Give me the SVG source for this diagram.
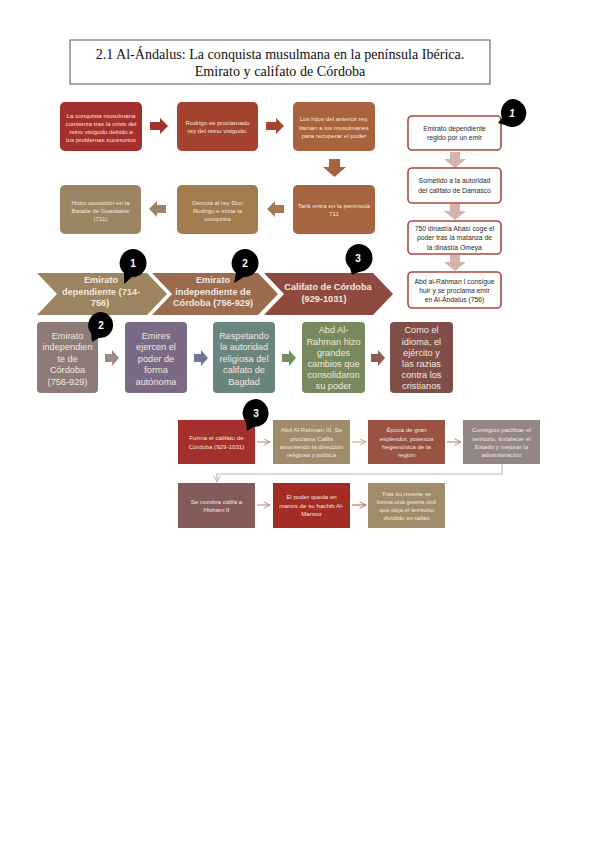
<svg xmlns="http://www.w3.org/2000/svg" width="599" height="848" viewBox="0 0 599 848">
<style>
.t{font-family:"Liberation Serif","Times New Roman",serif;font-size:14.1px;fill:#111;text-anchor:middle}
.s{font-family:"Liberation Sans",Arial,sans-serif;text-anchor:middle}
.w{fill:#f3e6df}
.k{fill:#2a2a2a}
.f6{font-size:6.2px}
.f7{font-size:6.8px}
.f9{font-size:9.2px}
.c9{font-size:9.2px;font-weight:bold}
.rb{fill:#fff;stroke:#a9493c;stroke-width:1.6}
.bub{fill:#000}
.bn{font-family:"Liberation Sans",Arial,sans-serif;font-size:10px;font-weight:bold;fill:#fff;text-anchor:middle}
.la{fill:none;stroke-width:1.1}
</style>
<defs>
<marker id="oa" viewBox="0 0 10 10" refX="9" refY="5" markerWidth="8" markerHeight="8" markerUnits="userSpaceOnUse" orient="auto"><path d="M1,1 L9,5 L1,9" fill="none" stroke="context-stroke" stroke-width="1.2"/></marker>
</defs>
<rect width="599" height="848" fill="#fff"/>
<g id="title">
<rect x="70" y="40" width="420" height="44" fill="#fff" stroke="#555" stroke-width="1"/>
<text class="t" x="280" y="58.5">2.1 Al-Ándalus: La conquista musulmana en la península Ibérica.</text>
<text class="t" x="280" y="76">Emirato y califato de Córdoba</text>
</g>
<g id="connectors">
<path d="M150,122 H160 V118 L168,126 L160,134 V130 H150 Z" fill="#a3302a"/>
<path d="M266,122 H276 V118 L284,126 L276,134 V130 H266 Z" fill="#a5452f"/>
<path d="M329,159 H340 V167 H346 L334.5,177 L323,167 H329 Z" fill="#a8623d"/>
<path d="M284,205 H275 V201 L267,209 L275,217 V213 H284 Z" fill="#a57a52"/>
<path d="M166,205 H157 V201 L149,209 L157,217 V213 H166 Z" fill="#9c8563"/>
<path d="M450,152 H460 V159 H466 L455,168 L444,159 H450 Z" fill="#d6b2ad"/>
<path d="M450,204 H460 V211 H466 L455,220 L444,211 H450 Z" fill="#d6b2ad"/>
<path d="M450,255 H460 V262 H466 L455,271 L444,262 H450 Z" fill="#d6b2ad"/>
<path d="M105,354 H112 V350 L119,358 L112,366 V362 H105 Z" fill="#9d8b87"/>
<path d="M194,354 H201 V350 L208,358 L201,366 V362 H194 Z" fill="#6f7795"/>
<path d="M282,354 H289 V350 L296,358 L289,366 V362 H282 Z" fill="#6f9062"/>
<path d="M371,354 H378 V350 L385,358 L378,366 V362 H371 Z" fill="#8f5a55"/>
<line class="la" x1="257" y1="442" x2="270" y2="442" stroke="#c8877c" marker-end="url(#oa)"/>
<line class="la" x1="352" y1="442" x2="366" y2="442" stroke="#c5ac8e" marker-end="url(#oa)"/>
<line class="la" x1="447" y1="442" x2="461" y2="442" stroke="#b8877c" marker-end="url(#oa)"/>
<path class="la" d="M502,464 V474 H217 V482" stroke="#bdb5b5" marker-end="url(#oa)"/>
<line class="la" x1="257" y1="505" x2="270" y2="505" stroke="#b88f8a" marker-end="url(#oa)"/>
<line class="la" x1="352" y1="505" x2="366" y2="505" stroke="#c2605a" marker-end="url(#oa)"/>
</g>
<g id="n1"><rect x="60" y="102" width="82" height="49" rx="5" fill="#a3302a"/>
<text class="s w f6" x="101" y="117.5">La conquista musulmana</text><text class="s w f6" x="101" y="125.5">comienza tras la crisis del</text><text class="s w f6" x="101" y="133.5">reino visigodo debido a</text><text class="s w f6" x="101" y="141.5">los problemas sucesorios</text></g>
<g id="n2"><rect x="177" y="102" width="81" height="49" rx="5" fill="#a5432f"/>
<text class="s w f6" x="217.5" y="124.5">Rodrigo es proclamado</text><text class="s w f6" x="217.5" y="133">rey del reino visigodo.</text></g>
<g id="n3"><rect x="293" y="102" width="82" height="49" rx="5" fill="#a8623d"/>
<text class="s w f6" x="334" y="121">Los hijos del anterior rey,</text><text class="s w f6" x="334" y="129.5">llaman a los musulmanes</text><text class="s w f6" x="334" y="138">para recuperar el poder</text></g>
<g id="n4"><rect x="293" y="185" width="82" height="49" rx="5" fill="#a66440"/>
<text class="s w f6" x="334" y="208">Tarik entra en la península</text><text class="s w f6" x="334" y="216">711</text></g>
<g id="n5"><rect x="177" y="185" width="81" height="49" rx="5" fill="#a47a4f"/>
<text class="s w f6" x="217.5" y="205">Derrota al rey Don</text><text class="s w f6" x="217.5" y="213">Rodrigo e inicia la</text><text class="s w f6" x="217.5" y="221">conquista</text></g>
<g id="n6"><rect x="60" y="185" width="81" height="49" rx="5" fill="#9c8563"/>
<text class="s w f6" x="100.5" y="205">Hubo oposición en la</text><text class="s w f6" x="100.5" y="213">Batalla de Guadalete</text><text class="s w f6" x="100.5" y="221">(711)</text></g>
<g id="r1"><rect class="rb" x="408" y="116" width="93" height="34" rx="4"/>
<text class="s k f7" x="454.5" y="130.5">Emirato dependiente</text><text class="s k f7" x="454.5" y="140">regido por un emir</text>
<path class="bub" d="M512,99 A14,14 0 1 1 505,125 L498,123 L502,118 A14,14 0 0 1 512,99 Z"/><text class="bn" x="512" y="117" font-style="italic">1</text></g>
<g id="r2"><rect class="rb" x="408" y="168" width="93" height="35" rx="4"/>
<text class="s k f7" x="454.5" y="183">Sometido a la autoridad</text><text class="s k f7" x="454.5" y="192.5">del califato de Damasco</text></g>
<g id="r3"><rect class="rb" x="408" y="221" width="93" height="33" rx="4"/>
<text class="s k f7" x="454.5" y="230.5">750 dinastía Abasí coge el</text><text class="s k f7" x="454.5" y="240">poder tras la matanza de</text><text class="s k f7" x="454.5" y="249.5">la dinastía Omeya</text></g>
<g id="r4"><rect class="rb" x="408" y="272" width="93" height="36" rx="4"/>
<text class="s k f7" x="454.5" y="284">Abd al-Rahman I consigue</text><text class="s k f7" x="454.5" y="293">huir y se proclama emir</text><text class="s k f7" x="454.5" y="302">en Al-Ándalus (756)</text></g>
<g id="c1"><path d="M37,273 H147 L167,294 L147,315 H37 L57,294 Z" fill="#9c8460"/>
<text class="s w c9" x="101" y="283">Emirato</text><text class="s w c9" x="101" y="294.5">dependiente (714-</text><text class="s w c9" x="100" y="306">756)</text>
<path class="bub" d="M133,249 A14,14 0 1 1 132,277 L124,284 L124,273 A14,14 0 0 1 133,249 Z"/><text class="bn" x="133" y="267">1</text></g>
<g id="c2"><path d="M152,273 H258 L278,294 L258,315 H152 L172,294 Z" fill="#9b6d4e"/>
<text class="s w c9" x="213" y="283">Emirato</text><text class="s w c9" x="213" y="294.5">independiente de</text><text class="s w c9" x="213" y="306">Córdoba (756-929)</text>
<path class="bub" d="M245,249 A14,14 0 1 1 244,277 L234,283 L236,273 A14,14 0 0 1 245,249 Z"/><text class="bn" x="245" y="267">2</text></g>
<g id="c3"><path d="M264,273 H373 L393,294 L373,315 H264 L284,294 Z" fill="#8f4a3f"/>
<text class="s w c9" x="328" y="290">Califato de Córdoba</text><text class="s w c9" x="324" y="301.5">(929-1031)</text>
<path class="bub" d="M358,244 A14,14 0 1 1 359,272 L352,275 L350,268 A14,14 0 0 1 358,244 Z"/><text class="bn" x="358" y="262">3</text></g>
<g id="e1"><rect x="37" y="322" width="61" height="71" rx="4" fill="#8e7b77"/>
<text class="s w f9" x="67.5" y="338.5">Emirato</text><text class="s w f9" x="67.5" y="350">independien</text><text class="s w f9" x="67.5" y="361.5">te de</text><text class="s w f9" x="67.5" y="373">Córdoba</text><text class="s w f9" x="67.5" y="384.5">(756-929)</text>
<path class="bub" d="M101,312 A13,13 0 1 1 99,338 L92,342 L91,333 A13,13 0 0 1 101,312 Z"/><text class="bn" x="101" y="329">2</text></g>
<g id="e2"><rect x="125" y="322" width="62" height="71" rx="4" fill="#7a6a85"/>
<text class="s w f9" x="156" y="338.5">Emires</text><text class="s w f9" x="156" y="350">ejercen el</text><text class="s w f9" x="156" y="361.5">poder de</text><text class="s w f9" x="156" y="373">forma</text><text class="s w f9" x="156" y="384.5">autónoma</text></g>
<g id="e3"><rect x="213" y="322" width="62" height="71" rx="4" fill="#6a8580"/>
<text class="s w f9" x="244" y="338.5">Respetando</text><text class="s w f9" x="244" y="350">la autoridad</text><text class="s w f9" x="244" y="361.5">religiosa del</text><text class="s w f9" x="244" y="373">califato de</text><text class="s w f9" x="244" y="384.5">Bagdad</text></g>
<g id="e4"><rect x="302" y="322" width="63" height="71" rx="4" fill="#768a5e"/>
<text class="s w f9" x="333.5" y="333">Abd Al-</text><text class="s w f9" x="333.5" y="344.5">Rahman hizo</text><text class="s w f9" x="333.5" y="356">grandes</text><text class="s w f9" x="333.5" y="367">cambios que</text><text class="s w f9" x="333.5" y="378">consolidaron</text><text class="s w f9" x="333.5" y="389">su poder</text></g>
<g id="e5"><rect x="390" y="322" width="63" height="71" rx="4" fill="#804f4a"/>
<text class="s w f9" x="421.5" y="333">Como el</text><text class="s w f9" x="421.5" y="344.5">idioma, el</text><text class="s w f9" x="421.5" y="356">ejército y</text><text class="s w f9" x="421.5" y="367">las razias</text><text class="s w f9" x="421.5" y="378">contra los</text><text class="s w f9" x="421.5" y="389">cristianos</text></g>
<g id="f1"><rect x="178" y="420" width="77" height="44" fill="#a3302a"/>
<text class="s w f6" x="216.5" y="440">Forma el califato de</text><text class="s w f6" x="216.5" y="449">Córdoba (929-1031)</text>
<path class="bub" d="M256,399 A14,14 0 1 1 253,427 L247,431 L246,422 A14,14 0 0 1 256,399 Z"/><text class="bn" x="256" y="417">3</text></g>
<g id="f2"><rect x="273" y="420" width="77" height="44" fill="#a08b6a"/>
<text class="s w f6" x="311.5" y="432">Abd Al-Rahman III, Se</text><text class="s w f6" x="311.5" y="440.5">proclama Califa</text><text class="s w f6" x="311.5" y="449">asumiendo la dirección</text><text class="s w f6" x="311.5" y="457">religiosa y política</text></g>
<g id="f3"><rect x="368" y="420" width="77" height="44" fill="#9a5243"/>
<text class="s w f6" x="406.5" y="432">Época de gran</text><text class="s w f6" x="406.5" y="440.5">esplendor, potencia</text><text class="s w f6" x="406.5" y="449">hegemónica de la</text><text class="s w f6" x="406.5" y="457">región</text></g>
<g id="f4"><rect x="463" y="420" width="77" height="44" fill="#938686"/>
<text class="s w f6" x="501.5" y="432">Consiguió pacificar el</text><text class="s w f6" x="501.5" y="440.5">territorio, fortalecer el</text><text class="s w f6" x="501.5" y="449">Estado y mejorar la</text><text class="s w f6" x="501.5" y="457">administración</text></g>
<g id="g1"><rect x="178" y="483" width="77" height="45" fill="#845b5b"/>
<text class="s w f6" x="216.5" y="504">Se nombra califa a</text><text class="s w f6" x="216.5" y="512">Hisham II</text>
<path d="M201,514 q1,-1 2,0 t2,0 t2,0 t2,0 t2,0 t2,0 t2,0 t2,0" fill="none" stroke="#e03030" stroke-width="0.6"/></g>
<g id="g2"><rect x="273" y="483" width="77" height="45" fill="#a32d25"/>
<text class="s w f6" x="311.5" y="499">El poder queda en</text><text class="s w f6" x="311.5" y="507.5">manos de su hachib Al-</text><text class="s w f6" x="311.5" y="516">Mansur</text>
<path d="M313,509.5 q1,-1 2,0 t2,0 t2,0 t2,0 t2,0 t2,0 t2,0 t2,0 t2,0" fill="none" stroke="#e03030" stroke-width="0.6"/></g>
<g id="g3"><rect x="368" y="483" width="77" height="45" fill="#a08b6a"/>
<text class="s w f6" x="406.5" y="496">Tras su muerte se</text><text class="s w f6" x="406.5" y="504">forma una guerra civil</text><text class="s w f6" x="406.5" y="512">que deja el territorio</text><text class="s w f6" x="406.5" y="520">dividido en taifas</text></g>
</svg>
